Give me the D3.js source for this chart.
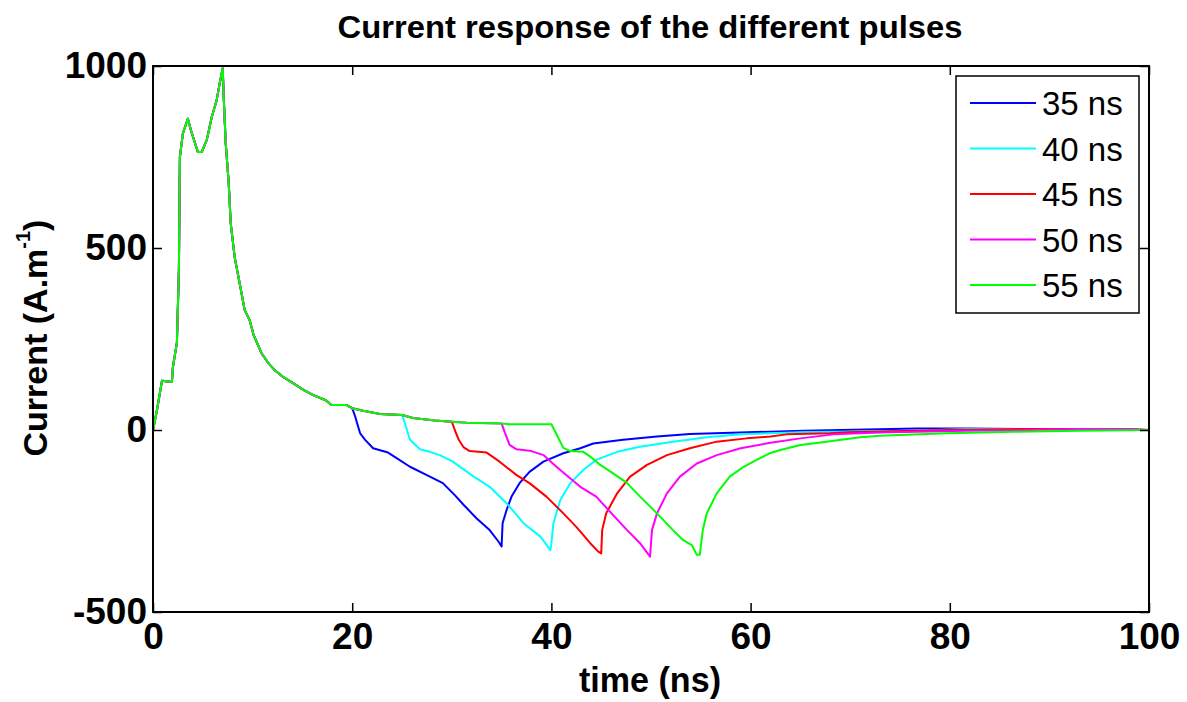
<!DOCTYPE html>
<html>
<head>
<meta charset="utf-8">
<script src="https://cdn.jsdelivr.net/npm/d3@7"></script>
<style>
  body { margin: 0; background: #fff; }
  text { font-family: "Liberation Sans", Arial, Helvetica, sans-serif; }
</style>
</head>
<body>
<div id="chart"></div>
<script>
// shared rise / decay before each pulse switches off (ns, A/m)
const baseT = [0, 0.4, 0.9, 1.9, 2.0, 2.4, 2.6, 2.7, 3.0, 3.5, 3.8, 4.5, 4.9, 5.4, 5.9, 6.4, 6.7, 7.0, 7.1, 7.3, 7.6, 7.8, 8.2, 8.7, 9.2, 9.7, 10.1, 10.9, 11.6, 12.2, 13.1, 14.1, 15.1, 16.1, 17.4, 17.9, 19.4, 20, 21.1, 22.8, 25, 26.1, 28.3, 30, 31.5, 35, 35.8, 40];
const baseI = [0, 55, 135, 132, 173, 240, 440, 750, 815, 855, 824, 764, 764, 797, 860, 907, 953, 994, 915, 788, 679, 569, 475, 403, 330, 302, 261, 211, 183, 165, 145, 128, 110, 96, 81, 69, 69, 60, 53, 44, 41, 33, 26, 23, 20, 18, 16, 16];

// tail of each pulse, from the moment it leaves the common curve
const t35 = [20, 20.3, 20.5, 20.8, 21.3, 22.1, 23.6, 24.5, 25.8, 27.5, 29.1, 30.3, 31.2, 32.5, 33.8, 34.7, 35.0, 35.1, 35.5, 36.0, 36.8, 37.8, 39.2, 41.2, 42.9, 44.2, 47.2, 50.6, 53.9, 58.9, 65.3, 76.7, 81.7, 90, 100];
const i35 = [60, 37, 18, -9, -27, -50, -62, -78, -101, -124, -146, -179, -206, -243, -275, -307, -320, -256, -220, -183, -146, -115, -87, -64, -50, -37, -27, -18, -11, -7, -2, 4, 4, 2, 0];

const t40 = [25, 25.3, 25.8, 26.8, 27.8, 28.8, 30.1, 32.2, 33.8, 35.5, 37.2, 38.9, 39.9, 40.0, 40.2, 40.9, 41.9, 43.2, 44.5, 46.6, 48.9, 52.2, 55.6, 59, 65, 76.3, 81.7, 87.5, 95, 100];
const i40 = [41, 18, -27, -53, -60, -69, -87, -128, -156, -201, -256, -293, -330, -311, -256, -192, -146, -110, -82, -60, -46, -32, -20, -12, -6, -2, 3, 3, 1, 0];

const t45 = [30, 30.3, 30.7, 31.2, 31.8, 33.5, 34.8, 36.5, 37.8, 39.5, 41.2, 42.5, 43.9, 44.7, 45.0, 45.1, 45.5, 46.6, 47.9, 49.6, 51.6, 53.9, 56.6, 59.6, 62, 63.6, 68, 69.8, 76.3, 80, 87.7, 92.7, 100];
const i45 = [23, 0, -27, -48, -58, -62, -87, -124, -146, -183, -229, -266, -311, -334, -339, -275, -229, -174, -128, -96, -69, -50, -32, -23, -18, -12, -9, -6, -2, 0, 3, 3, 0];

const t50 = [35, 35.3, 35.8, 36.5, 38, 39.2, 40.5, 42.9, 44.5, 46.2, 47.6, 48.9, 49.9, 50.1, 50.6, 51.6, 52.9, 54.6, 56.6, 59, 62, 65, 68.3, 73, 81.7, 88, 92.7, 98.6, 100];
const i50 = [18, -5, -41, -53, -58, -69, -101, -156, -183, -234, -275, -311, -348, -275, -229, -174, -128, -92, -69, -50, -35, -23, -12, -7, -2, 0, 3, 3, 0];

const t55 = [40, 40.7, 41.2, 41.9, 43.2, 43.9, 44.9, 46.2, 47.6, 48.9, 50.6, 52.2, 53.2, 54.1, 54.6, 54.9, 55.2, 55.6, 56.6, 57.9, 59.3, 60.6, 61.9, 63, 65, 67.6, 71, 73, 79.7, 86.3, 93, 100];
const i55 = [16, -22, -49, -58, -60, -73, -96, -119, -146, -183, -229, -275, -302, -316, -343, -343, -275, -229, -174, -128, -101, -82, -64, -55, -41, -32, -20, -16, -9, -5, -2, 0];

const pulseNames = ["35 ns", "40 ns", "45 ns", "50 ns", "55 ns"];
const pulseColors = ["#0000ff", "#00ffff", "#ff0000", "#ff00ff", "#00ff00"];
const tails = [[t35, i35], [t40, i40], [t45, i45], [t50, i50], [t55, i55]];

const xTicks = [0, 20, 40, 60, 80, 100];
const yTicks = [-500, 0, 500, 1000];

const W = 1187, H = 702;
const m = { left: 153, top: 66, right: 1149, bottom: 612 };

const svg = d3.select("#chart").append("svg")
  .attr("width", W).attr("height", H);

svg.append("rect").attr("width", W).attr("height", H).attr("fill", "#fff");

const x = d3.scaleLinear().domain([0, 100]).range([m.left, m.right]);
const y = d3.scaleLinear().domain([-500, 1000]).range([m.bottom, m.top]);

// build series: shared points before the switch-off, then the tail
const series = tails.map(([tt, ii], k) => {
  const pts = [];
  baseT.forEach((t, j) => { if (t < tt[0]) pts.push([t, baseI[j]]); });
  tt.forEach((t, j) => pts.push([t, ii[j]]));
  return { name: pulseNames[k], color: pulseColors[k], pts };
});

const line = d3.line().x(d => x(d[0])).y(d => y(d[1]));

svg.append("g").selectAll("path")
  .data(series)
  .join("path")
  .attr("d", d => line(d.pts))
  .attr("fill", "none")
  .attr("stroke", d => d.color)
  .attr("stroke-width", 2)
  .attr("stroke-linejoin", "round");

// axes, MATLAB style: inward ticks on all four sides
const plain = d => String(d);
const tickFont = g => g.selectAll("text")
  .attr("font-size", 37).attr("font-weight", "bold").attr("fill", "#000")
  .style("font-family", "'Liberation Sans', Arial, sans-serif");

svg.append("g").attr("transform", `translate(0,${m.bottom})`)
  .call(d3.axisBottom(x).tickValues(xTicks).tickFormat(plain).tickSizeInner(-9).tickSizeOuter(0).tickPadding(11))
  .call(g => g.select(".domain").remove())
  .call(g => g.selectAll("line").attr("stroke", "#000").attr("stroke-width", 1.5))
  .call(tickFont);

svg.append("g").attr("transform", `translate(${m.left},0)`)
  .call(d3.axisLeft(y).tickValues(yTicks).tickFormat(plain).tickSizeInner(-9).tickSizeOuter(0).tickPadding(6))
  .call(g => g.select(".domain").remove())
  .call(g => g.selectAll("line").attr("stroke", "#000").attr("stroke-width", 1.5))
  .call(tickFont);

svg.append("g").attr("transform", `translate(0,${m.top})`)
  .call(d3.axisTop(x).tickValues(xTicks).tickSizeInner(-9).tickSizeOuter(0).tickFormat(""))
  .call(g => g.select(".domain").remove())
  .call(g => g.selectAll("line").attr("stroke", "#000").attr("stroke-width", 1.5));

svg.append("g").attr("transform", `translate(${m.right},0)`)
  .call(d3.axisRight(y).tickValues(yTicks).tickSizeInner(-9).tickSizeOuter(0).tickFormat(""))
  .call(g => g.select(".domain").remove())
  .call(g => g.selectAll("line").attr("stroke", "#000").attr("stroke-width", 1.5));

svg.append("rect")
  .attr("x", m.left).attr("y", m.top)
  .attr("width", m.right - m.left).attr("height", m.bottom - m.top)
  .attr("fill", "none").attr("stroke", "#000").attr("stroke-width", 2);

// title and axis labels
svg.append("text")
  .attr("x", 650).attr("y", 38)
  .attr("text-anchor", "middle")
  .attr("font-size", 32).attr("font-weight", "bold")
  .attr("textLength", 625).attr("lengthAdjust", "spacingAndGlyphs")
  .text("Current response of the different pulses");

svg.append("text")
  .attr("x", 650).attr("y", 692)
  .attr("text-anchor", "middle")
  .attr("font-size", 35).attr("font-weight", "bold")
  .attr("textLength", 142).attr("lengthAdjust", "spacingAndGlyphs")
  .text("time (ns)");

const yl = svg.append("text")
  .attr("transform", "translate(47,338) rotate(-90)")
  .attr("text-anchor", "middle")
  .attr("font-size", 34).attr("font-weight", "bold");
yl.append("tspan").text("Current (A.m");
yl.append("tspan").attr("font-size", 20).attr("dy", -17).text("-1");
yl.append("tspan").attr("dy", 17).text(")");

// legend
const lg = svg.append("g");
lg.append("rect")
  .attr("x", 956).attr("y", 76).attr("width", 183).attr("height", 237)
  .attr("fill", "#fff").attr("stroke", "#000").attr("stroke-width", 1.5);

const rows = lg.selectAll("g.row")
  .data(series)
  .join("g")
  .attr("class", "row")
  .attr("transform", (d, i) => `translate(0,${103 + i * 45.5})`);

rows.append("line")
  .attr("x1", 970).attr("x2", 1036)
  .attr("stroke", d => d.color).attr("stroke-width", 2);

rows.append("text")
  .attr("x", 1042).attr("y", 12)
  .attr("font-size", 33)
  .text(d => d.name);
</script>
</body>
</html>
